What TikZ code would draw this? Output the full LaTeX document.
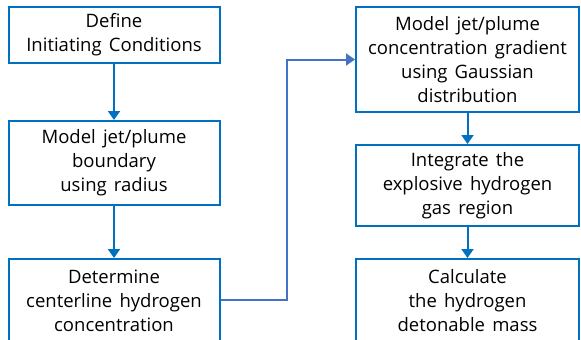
\documentclass[tikz,border=0pt]{standalone}
\usepackage{fontspec}
\setmainfont{Open Sans}[WordSpace=1.5]
\usetikzlibrary{arrows.meta}
\definecolor{boxblue}{HTML}{0070C0}
\definecolor{linkblue}{HTML}{4472C4}
\tikzset{
  stepbox/.style={draw=boxblue, line width=2pt, fill=white, align=center,
    inner sep=0pt, font=\fontsize{18.5}{24}\selectfont, text=black,
    execute at begin node={\rule{0pt}{19pt}}},
  flow/.style={draw=boxblue, line width=2pt, -{Triangle[width=12pt,length=9pt]}},
  link/.style={draw=linkblue, line width=2pt, -{Triangle[width=12pt,length=9pt]}}
}
\begin{document}
\begin{tikzpicture}[x=1pt,y=-1pt]
\useasboundingbox (0,0) rectangle (581,340);
\begin{scope}
\clip (0,0) rectangle (581,340);
\node[stepbox, minimum width=211pt, minimum height=56pt] (a) at (114,35) {Define\\Initiating Conditions};
\node[stepbox, minimum width=211pt, minimum height=84pt] (b) at (114,163) {Model jet/plume\\boundary\\using radius};
\node[stepbox, minimum width=211pt, minimum height=84pt] (c) at (114,301) {Determine\\centerline hydrogen\\concentration};
\node[stepbox, minimum width=223pt, minimum height=105pt] (d) at (467.5,59.5) {Model jet/plume\\concentration gradient\\using Gaussian\\distribution};
\node[stepbox, minimum width=223pt, minimum height=81pt] (e) at (467.5,185.5) {Integrate the\\explosive hydrogen\\gas region};
\node[stepbox, minimum width=223pt, minimum height=84pt] (f) at (467.5,301) {Calculate\\the hydrogen\\detonable mass};
\draw[flow] (a) -- (b);
\draw[flow] (b) -- (c);
\draw[flow] (d) -- (e);
\draw[flow] (e) -- (f);
\coordinate (m) at (287,300);
\draw[link] (c.east |- m) -- (m) |- (d.west);
\end{scope}
\end{tikzpicture}
\end{document}
